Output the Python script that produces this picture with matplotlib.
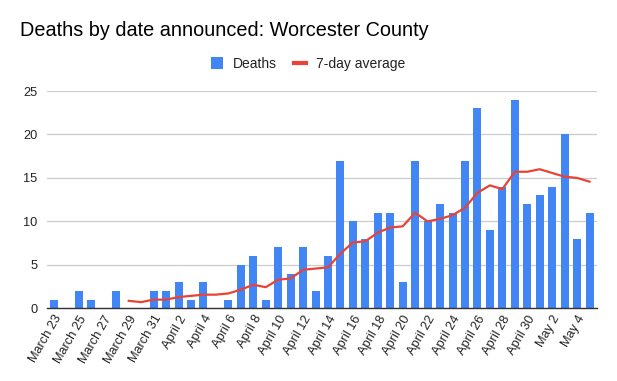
import matplotlib
matplotlib.use("Agg")
import matplotlib.pyplot as plt
from matplotlib.patches import Patch
from matplotlib.lines import Line2D

plt.rcParams['font.family'] = ['Liberation Sans', 'DejaVu Sans']

# daily dates, March 23 .. May 5
dates = ["March 23", "March 24", "March 25", "March 26", "March 27", "March 28",
         "March 29", "March 30", "March 31", "April 1", "April 2", "April 3",
         "April 4", "April 5", "April 6", "April 7", "April 8", "April 9",
         "April 10", "April 11", "April 12", "April 13", "April 14", "April 15",
         "April 16", "April 17", "April 18", "April 19", "April 20", "April 21",
         "April 22", "April 23", "April 24", "April 25", "April 26", "April 27",
         "April 28", "April 29", "April 30", "May 1", "May 2", "May 3",
         "May 4", "May 5"]

deaths = [1, 0, 2, 1, 0, 2, 0, 0, 2, 2, 3, 1, 3, 0, 1, 5, 6, 1, 7, 4, 7, 2,
          6, 17, 10, 8, 11, 11, 3, 17, 10, 12, 11, 17, 23, 9, 14, 24, 12, 13,
          14, 20, 8, 11]

# 7-day average, starts on March 29
avg7 = [None] * 6 + [0.86, 0.71, 1.0, 1.0, 1.29, 1.43, 1.57, 1.57, 1.71, 2.14,
                     2.71, 2.43, 3.29, 3.43, 4.43, 4.57, 4.71, 6.29, 7.57, 7.71,
                     8.71, 9.29, 9.43, 11.0, 10.0, 10.29, 10.71, 11.57, 13.29,
                     14.14, 13.71, 15.71, 15.71, 16.0, 15.57, 15.14, 15.0, 14.57]

blue = '#4285F4'
red = '#EA4335'

fig = plt.figure(figsize=(6.17, 3.81), dpi=100)
ax = fig.add_axes([47 / 617, 1 - 308.3 / 381, 550 / 617, 217.3 / 381])

x = list(range(len(dates)))
ax.bar(x, deaths, width=0.64, color=blue, zorder=2)
xs = [i for i, v in zip(x, avg7) if v is not None]
ys = [v for v in avg7 if v is not None]
ax.plot(xs, ys, color=red, lw=1.6, zorder=3)

ax.set_xlim(-0.56, len(dates) - 1 + 0.6)
ax.set_ylim(0, 25)
ax.set_yticks([0, 5, 10, 15, 20, 25])
ax.yaxis.grid(True, color='#cccccc', lw=0.9, zorder=0)
ax.set_axisbelow(True)
for s in ['top', 'right', 'left']:
    ax.spines[s].set_visible(False)
ax.spines['bottom'].set_color('#333333')
ax.spines['bottom'].set_linewidth(1.0)
ax.spines['bottom'].set_zorder(4)
ax.tick_params(axis='both', length=0, labelsize=9.2, colors='#222222')
ax.tick_params(axis='y', pad=7)

ax.set_xticks(x[::2])
ax.set_xticklabels(dates[::2], rotation=60, ha='right', rotation_mode='anchor')

fig.text(20 / 617, 1 - 31 / 381, 'Deaths by date announced: Worcester County',
         fontsize=14.3, color='#000000', va='center', ha='left')

handles = [Patch(facecolor=blue, edgecolor='none'),
           Line2D([0], [0], color=red, lw=3)]
fig.legend(handles, ['Deaths', '7-day average'], loc='center',
           bbox_to_anchor=(0.499, 1 - 64 / 381), ncol=2, frameon=False,
           fontsize=10, handlelength=0.9, handleheight=0.9, handletextpad=0.7,
           columnspacing=1.2, labelcolor='#222222')

fig.savefig('out.png', dpi=100)
